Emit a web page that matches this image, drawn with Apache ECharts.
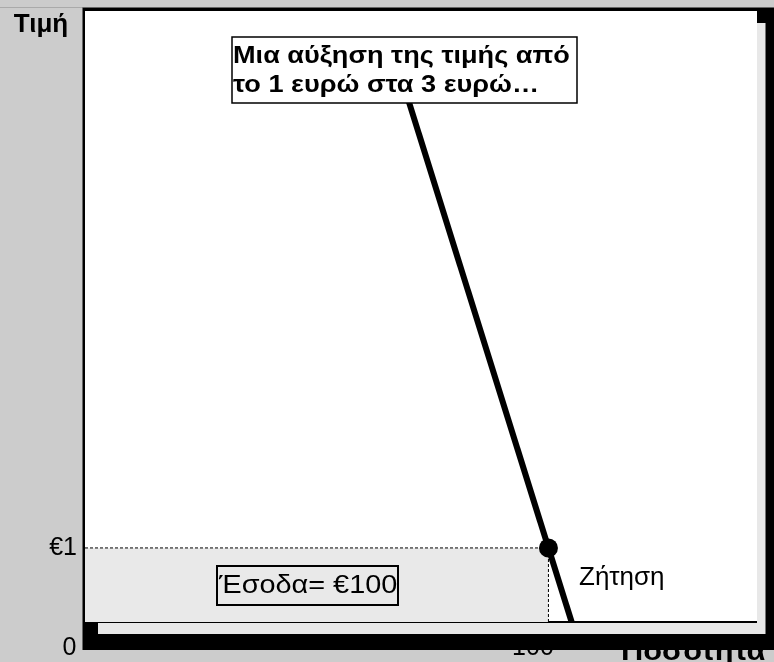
<!DOCTYPE html>
<html>
<head>
<meta charset="utf-8">
<script src="https://cdn.jsdelivr.net/npm/echarts@6/dist/echarts.min.js"></script>
<style>
  html, body { margin: 0; padding: 0; background: #cccccc; }
  #chart { width: 774px; height: 662px; }
</style>
</head>
<body>
<div id="chart"></div>
<script>
  // tick labels
  const xTickValues = [0, 100]
  const xTickLabels = ['0', '100']
  const yTickValues = [1]
  const yTickLabels = ['€1']

  // demand curve (quantity, price)
  const demandQ = [105, 68]
  const demandP = [0, 7.4]

  // point on the curve: price 1, quantity 100
  const pointQ = [100]
  const pointP = [1]

  const FONT = '"Liberation Sans", Arial, sans-serif'

  const chart = echarts.init(document.getElementById('chart'))

  chart.setOption({
    backgroundColor: '#cccccc',
    animation: false,
    grid: { left: 85, right: 17, top: 11, bottom: 40 },
    xAxis: {
      type: 'value',
      min: 0,
      max: 145,
      z: 0,
      axisLine: { show: false },
      axisTick: { show: false },
      splitLine: { show: false },
      axisLabel: {
        customValues: xTickValues,
        margin: 14,
        padding: [0, 31, 0, 0],
        fontFamily: FONT,
        fontSize: 25,
        color: '#000',
        formatter: v => xTickLabels[xTickValues.indexOf(v)]
      }
    },
    yAxis: {
      type: 'value',
      min: 0,
      max: 8.25,
      axisLine: { show: false },
      axisTick: { show: false },
      splitLine: { show: false },
      axisLabel: {
        customValues: yTickValues,
        margin: 8,
        fontFamily: FONT,
        fontSize: 25,
        color: '#000',
        formatter: v => yTickLabels[yTickValues.indexOf(v)]
      }
    },
    graphic: [
      { type: 'line', z: 1, shape: { x1: 0, y1: 7.5, x2: 83, y2: 7.5 }, style: { stroke: '#aaaaaa', lineWidth: 1 } },
      // slide shadow + frame
      { type: 'rect', z: 1, shape: { x: 82.5, y: 7.5, width: 700, height: 642.5 }, style: { fill: '#000' } },
      { type: 'rect', z: 2, shape: { x: 98, y: 23, width: 667.5, height: 611 }, style: { fill: '#e8e8e8' } },
      { type: 'rect', z: 3, shape: { x: 85, y: 11, width: 672, height: 611 }, style: { fill: '#ffffff' } },
      // axis names
      { type: 'text', z: 10, x: 41, y: 25, style: { text: 'Τιμή', font: 'bold 26px ' + FONT, fill: '#000', align: 'center', verticalAlign: 'middle' } },
      { type: 'text', z: 0, x: 621, y: 652, scaleX: 1.1, style: { text: 'Ποσότητα', font: 'bold 28px ' + FONT, fill: '#000', align: 'left', verticalAlign: 'middle' } },
      // callout box
      { type: 'rect', z: 10, shape: { x: 232, y: 37, width: 345, height: 66 }, style: { fill: '#ffffff', stroke: '#000', lineWidth: 1.5 } },
      { type: 'text', z: 11, x: 233, y: 42, scaleX: 1.13, style: { text: 'Μια αύξηση της τιμής από\nτο 1 ευρώ στα 3 ευρώ…', font: 'bold 24px ' + FONT, lineHeight: 29, fill: '#000', align: 'left', verticalAlign: 'top' } },
      // revenue box
      { type: 'rect', z: 10, shape: { x: 217, y: 566, width: 181, height: 39 }, style: { fill: 'none', stroke: '#000', lineWidth: 2 } },
      { type: 'text', z: 11, x: 219, y: 586, scaleX: 1.11, style: { text: 'Έσοδα= €100', font: '26px ' + FONT, fill: '#000', align: 'left', verticalAlign: 'middle' } },
      { type: 'text', z: 11, x: 579, y: 578, style: { text: 'Ζήτηση', font: '26px ' + FONT, fill: '#000', align: 'left', verticalAlign: 'middle' } }
    ],
    series: [
      {
        name: 'revenue',
        type: 'line',
        z: 5,
        silent: true,
        symbol: 'none',
        data: [[0, pointP[0]], [pointQ[0], pointP[0]]],
        lineStyle: { color: '#000', width: 1, type: [3, 2] },
        areaStyle: { color: '#e9e9e9', opacity: 1 },
        markLine: {
          silent: true,
          symbol: 'none',
          label: { show: false },
          lineStyle: { color: '#000', width: 2, type: 'solid' },
          data: [{ yAxis: 0 }]
        }
      },
      {
        name: 'drop',
        type: 'line',
        z: 5,
        silent: true,
        symbol: 'none',
        data: [[pointQ[0], 0], [pointQ[0], pointP[0]]],
        lineStyle: { color: '#000', width: 1, type: [3, 2] }
      },
      {
        name: 'Ζήτηση',
        type: 'line',
        z: 6,
        symbol: 'none',
        data: demandQ.map((q, i) => [q, demandP[i]]),
        lineStyle: { color: '#000', width: 6 }
      },
      {
        name: 'point',
        type: 'scatter',
        z: 7,
        symbolSize: 19,
        itemStyle: { color: '#000', opacity: 1 },
        data: pointQ.map((q, i) => [q, pointP[i]])
      }
    ]
  })
</script>
</body>
</html>
